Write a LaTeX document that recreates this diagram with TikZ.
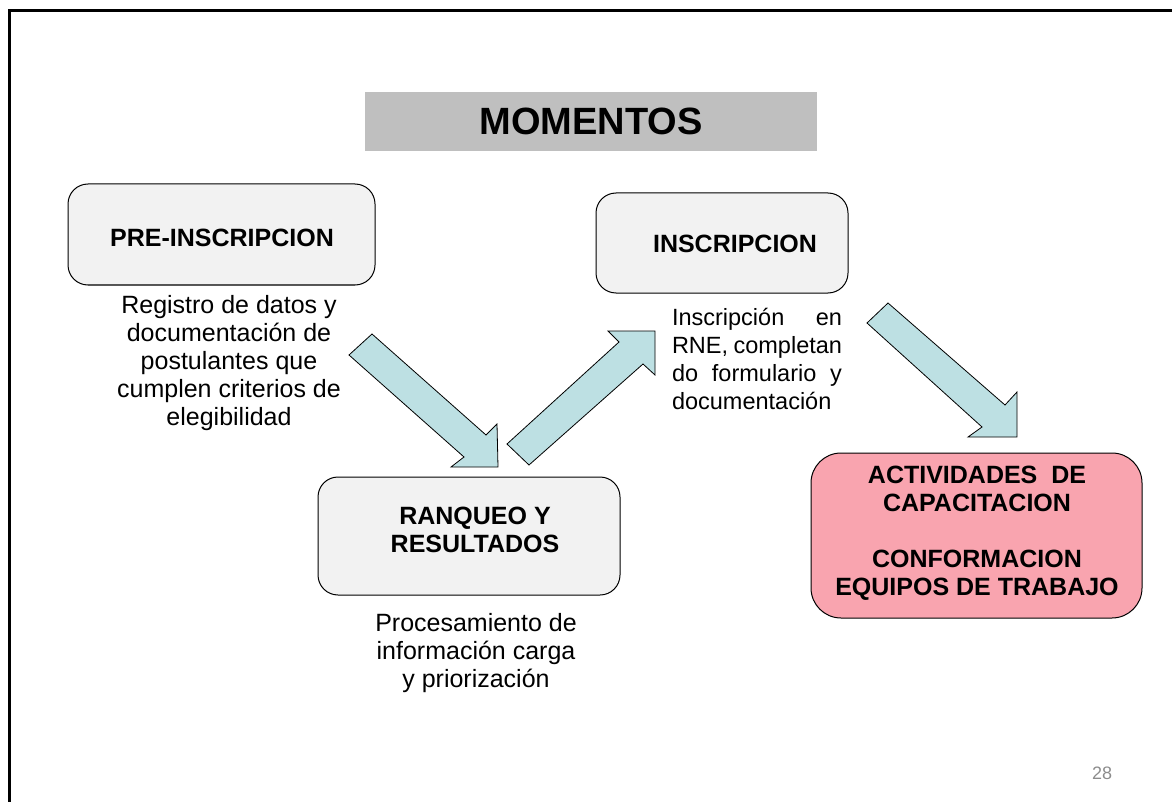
\documentclass[tikz,border=0pt]{standalone}
\usepackage{fontspec}
\setmainfont{Liberation Sans}
\definecolor{titlegray}{HTML}{BFBFBF}
\definecolor{boxgray}{HTML}{F2F2F2}
\definecolor{arrowblue}{HTML}{BDE0E3}
\definecolor{boxpink}{HTML}{F9A4AF}
\definecolor{numgray}{HTML}{8C8C8C}
\tikzset{
  etapa/.style   = {draw = black, fill = boxgray, rounded corners = 20pt,
                    line width = 1pt},
  etiqueta/.style = {align = center,
                    font = \fontsize{25}{28}\selectfont\bfseries},
  nota/.style    = {align = center, font = \fontsize{25}{28}\selectfont},
  flecha/.style  = {draw = black, fill = arrowblue, line width = 0.8pt,
                    line join = miter}
}

\begin{document}
\begin{tikzpicture}[x=1pt, y=-1pt]
  \useasboundingbox (0,0) rectangle (1172,802);
  % frame of the slide
  \draw[line width = 3pt] (9,802) -- (9,11) -- (1172,11);
  % title
  \fill[titlegray] (365,92) rectangle (817,151);
  \node (titulo) at (591,121) {\fontsize{38}{40}\selectfont\bfseries MOMENTOS};
  % stages
  \draw[etapa] (68,184) rectangle (375,285);
  \node[etiqueta] (pre) at (222,238) {PRE-INSCRIPCION};
  \draw[etapa] (596,193) rectangle (848,293);
  \node[etiqueta] (insc) at (735,244) {INSCRIPCION};
  \draw[etapa] (318,477) rectangle (620,595);
  \node[etiqueta] (ranq) at (475,530) {RANQUEO Y\\RESULTADOS};
  \draw[etapa, fill = boxpink, rounded corners = 30pt] (811,453) rectangle (1142,618);
  \node[etiqueta] (activ) at (977,533)
    {ACTIVIDADES\ \ DE\\CAPACITACION\\[28pt]CONFORMACION\\EQUIPOS DE TRABAJO};
  % notes under the stages
  \node[nota] (notapre) at (229,363)
    {Registro de datos y\\documentación de\\postulantes que\\cumplen criterios de\\elegibilidad};
  \node[nota, font = \fontsize{23.5}{28}\selectfont] (notainsc) at (757,359)
    {\makebox[170pt][s]{Inscripción en}\\\makebox[170pt][s]{RNE, completan}\\
     \makebox[170pt][s]{do formulario y}\\\makebox[170pt][l]{documentación}};
  \node[nota] (notaranq) at (476,653)
    {Procesamiento de\\información carga\\y priorización};
  % block arrows
  \filldraw[flecha] (349,355) -- (372,334) -- (486,435) -- (497,424)
    -- (498,467) -- (451,467) -- (464,457) -- cycle;
  \filldraw[flecha] (507,444) -- (619,342) -- (608,331) -- (655,331)
    -- (655,375) -- (643,364) -- (529,465) -- cycle;
  \filldraw[flecha] (867,323) -- (888,303) -- (1005,405) -- (1017,392)
    -- (1017,437) -- (968,437) -- (982,427) -- cycle;
  % page number
  \node[text = numgray] (pagina) at (1102,773) {\fontsize{18}{20}\selectfont 28};
\end{tikzpicture}
\end{document}
